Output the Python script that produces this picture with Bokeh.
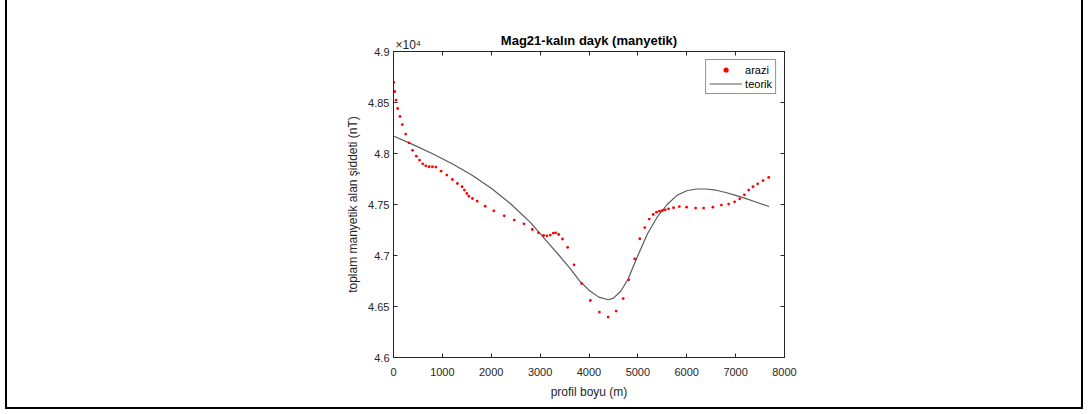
from bokeh.plotting import figure
from bokeh.models import (LinearAxis, Range1d, Legend, LegendItem, Title,
                          FixedTicker, CustomJSTickFormatter)
from bokeh.embed import file_html
from bokeh.resources import INLINE

# ---- data ----
arazi_x = [5, 25, 51, 86, 133, 180, 250, 318, 390, 467, 533, 599, 660, 728, 795, 865,
           974, 1091, 1205, 1308, 1404, 1451, 1501, 1542, 1615, 1712, 1876, 2054, 2265,
           2470, 2669, 2839, 2968, 3071, 3141, 3208, 3270, 3317, 3378, 3458, 3563, 3694,
           3850, 4028, 4213, 4391, 4555, 4699, 4813, 4936, 5039, 5141, 5232, 5314, 5381,
           5443, 5504, 5560, 5627, 5730, 5847, 5996, 6181, 6345, 6535, 6708, 6857, 6980,
           7083, 7179, 7267, 7355, 7452, 7560, 7677]
arazi_y = [48696, 48608, 48524, 48441, 48363, 48284, 48191, 48105, 48031, 47974, 47935,
           47899, 47879, 47870, 47870, 47867, 47827, 47788, 47745, 47706, 47674, 47641,
           47608, 47582, 47559, 47533, 47484, 47438, 47389, 47347, 47311, 47255, 47222,
           47196, 47193, 47200, 47220, 47222, 47206, 47162, 47080, 46909, 46725, 46559,
           46445, 46396, 46455, 46578, 46762, 46966, 47164, 47274, 47357, 47402, 47425,
           47435, 47441, 47448, 47458, 47468, 47480, 47474, 47465, 47465, 47474, 47494,
           47504, 47526, 47556, 47595, 47641, 47674, 47703, 47735, 47765]

teorik_x = [0, 400, 800, 1200, 1600, 2000, 2400, 2800, 3000, 3200, 3400, 3600, 3800,
            4000, 4200, 4400, 4500, 4650, 4800, 5000, 5200, 5400, 5600, 5800, 6000,
            6200, 6400, 6600, 6800, 7000, 7200, 7400, 7683]
teorik_y = [48171, 48087, 47997, 47900, 47790, 47660, 47505, 47325, 47215, 47105, 46995,
            46880, 46755, 46660, 46592, 46566, 46582, 46650, 46770, 47000, 47215, 47380,
            47500, 47590, 47635, 47652, 47652, 47640, 47618, 47590, 47560, 47527, 47480]

x_ticks = [0, 1000, 2000, 3000, 4000, 5000, 6000, 7000, 8000]
y_ticks = [46000, 46500, 47000, 47500, 48000, 48500, 49000]

title_text = "Mag21-kalın dayk (manyetik)"
x_label = "profil boyu (m)"
y_label = "toplam manyetik alan şiddeti (nT)"
exp_text = "×10⁴"

FONT = "Liberation Sans"
AXC = "#262626"

p = figure(width=1078, height=409, x_range=Range1d(0, 8000), y_range=Range1d(46000, 49000),
           output_backend="svg", toolbar_location=None,
           min_border_left=386, min_border_right=301, min_border_top=51, min_border_bottom=52)
p.styles = {"margin-left": "5px",
            "border-left": "2px solid #000", "border-right": "2px solid #000",
            "border-bottom": "2px solid #000"}
p.background_fill_color = "white"
p.border_fill_color = "white"
p.outline_line_color = AXC
p.outline_line_width = 1
p.xgrid.visible = False
p.ygrid.visible = False

p.title.text = title_text
p.title.align = "center"
p.title.text_font = FONT
p.title.text_font_size = "13px"
p.title.text_font_style = "bold"
p.title.text_color = "#000000"
p.title.standoff = -24

xt = FixedTicker(ticks=x_ticks)
yt = FixedTicker(ticks=y_ticks)
yfmt = CustomJSTickFormatter(code="return (tick/10000).toString();")
blank = CustomJSTickFormatter(code="return '';")

def style_axis(ax, show_labels=True):
    ax.major_tick_in = 4
    ax.major_tick_out = 0
    ax.minor_tick_line_color = None
    ax.axis_line_color = AXC
    ax.major_tick_line_color = AXC
    ax.major_label_text_color = AXC
    ax.major_label_text_font = FONT
    ax.axis_label_text_font = FONT
    ax.axis_label_text_color = AXC
    ax.axis_label_text_font_style = "normal"
    ax.major_label_text_font_size = "11px"
    ax.axis_label_text_font_size = "12px"
    if not show_labels:
        ax.formatter = blank
        ax.major_label_standoff = 0

xa = p.xaxis[0]
xa.ticker = xt
xa.axis_label = x_label
style_axis(xa)
xa.major_label_standoff = 10
xa.axis_label_standoff = 6

ya = p.yaxis[0]
ya.ticker = yt
ya.formatter = yfmt
ya.axis_label = y_label
style_axis(ya)
ya.major_label_standoff = 4
ya.axis_label_standoff = 5

top = LinearAxis(ticker=FixedTicker(ticks=x_ticks))
style_axis(top, False)
p.add_layout(top, "above")
right = LinearAxis(ticker=FixedTicker(ticks=y_ticks))
style_axis(right, False)
p.add_layout(right, "right")

r_line = p.line(teorik_x, teorik_y, line_color="#5a5a5a", line_width=1.2)
r_pts = p.scatter(arazi_x, arazi_y, size=2.8, fill_color="#ff0000", line_color=None)

legend = Legend(items=[LegendItem(label="arazi", renderers=[r_pts]),
                       LegendItem(label="teorik", renderers=[r_line])],
                location="top_right")
legend.margin = 8
legend.padding = 3
legend.spacing = 1
legend.glyph_width = 33
legend.glyph_height = 13
legend.label_standoff = 3
legend.label_text_font = FONT
legend.label_text_font_size = "11px"
legend.label_text_color = "#000000"
legend.label_height = 13
legend.border_line_color = AXC
legend.border_line_width = 1
legend.background_fill_alpha = 1
p.add_layout(legend)

# exponent marker of the y axis (x10^4), above the top-left corner of the frame
p.add_layout(Title(text=exp_text, align="left", offset=2, standoff=0, text_font=FONT,
                   text_font_size="12px", text_font_style="normal",
                   text_color=AXC), "above")

open("out.html", "w").write(file_html(p, INLINE))
